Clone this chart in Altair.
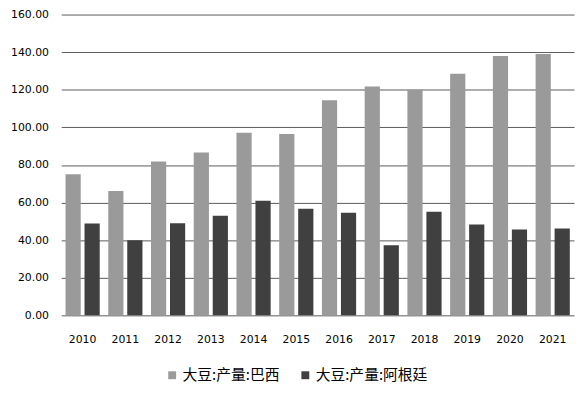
import altair as alt
import pandas as pd

years = ["2010", "2011", "2012", "2013", "2014", "2015", "2016", "2017", "2018", "2019", "2020", "2021"]
brazil = [75.0, 66.1, 81.8, 86.6, 97.1, 96.5, 114.4, 121.7, 120.0, 128.5, 138.0, 139.0]
argentina = [48.8, 39.9, 49.0, 53.0, 60.9, 56.7, 54.6, 37.3, 55.1, 48.3, 45.6, 46.2]
series = ["大豆:产量:巴西", "大豆:产量:阿根廷"]
colors = ["#9a9a9a", "#404040"]

rows = []
for i, y in enumerate(years):
    rows.append({"year": y, "series": series[0], "value": brazil[i]})
    rows.append({"year": y, "series": series[1], "value": argentina[i]})
df = pd.DataFrame(rows)

font = "DejaVu Sans"

chart = alt.Chart(df).mark_bar().encode(
    x=alt.X("year:N", sort=years, title=None,
            scale=alt.Scale(paddingInner=0.2, paddingOuter=0.1),
            axis=alt.Axis(labelAngle=0, domain=False, ticks=False, labelPadding=19,
                          labelFont=font, labelFontSize=11, labelColor="#000000")),
    xOffset=alt.XOffset("series:N", sort=series, scale=alt.Scale(paddingInner=0.2)),
    y=alt.Y("value:Q", title=None,
            scale=alt.Scale(domain=[0, 160], nice=False),
            axis=alt.Axis(values=[0, 20, 40, 60, 80, 100, 120, 140, 160], format=".2f",
                          domain=False, ticks=False, labelPadding=13,
                          gridColor="#5a5a5a", gridWidth=1,
                          labelFont=font, labelFontSize=11, labelColor="#000000")),
    color=alt.Color("series:N", sort=series,
                    scale=alt.Scale(domain=series, range=colors),
                    legend=alt.Legend(title=None, orient="none", direction="horizontal",
                                      legendX=101, legendY=354, padding=4, symbolType="square",
                                      symbolSize=64, symbolStrokeWidth=0,
                                      labelFont="Noto Sans CJK SC", labelFontSize=15,
                                      labelColor="#000000", columnPadding=18, labelOffset=3,
                                      labelLimit=200)),
).properties(
    width=520, height=305,
    autosize=alt.AutoSizeParams(type="none"),
    padding={"left": 54, "top": 4, "right": 5, "bottom": 68},
).configure_view(stroke=None)

chart.save("out.html", embed_options={"renderer": "svg", "actions": False})
